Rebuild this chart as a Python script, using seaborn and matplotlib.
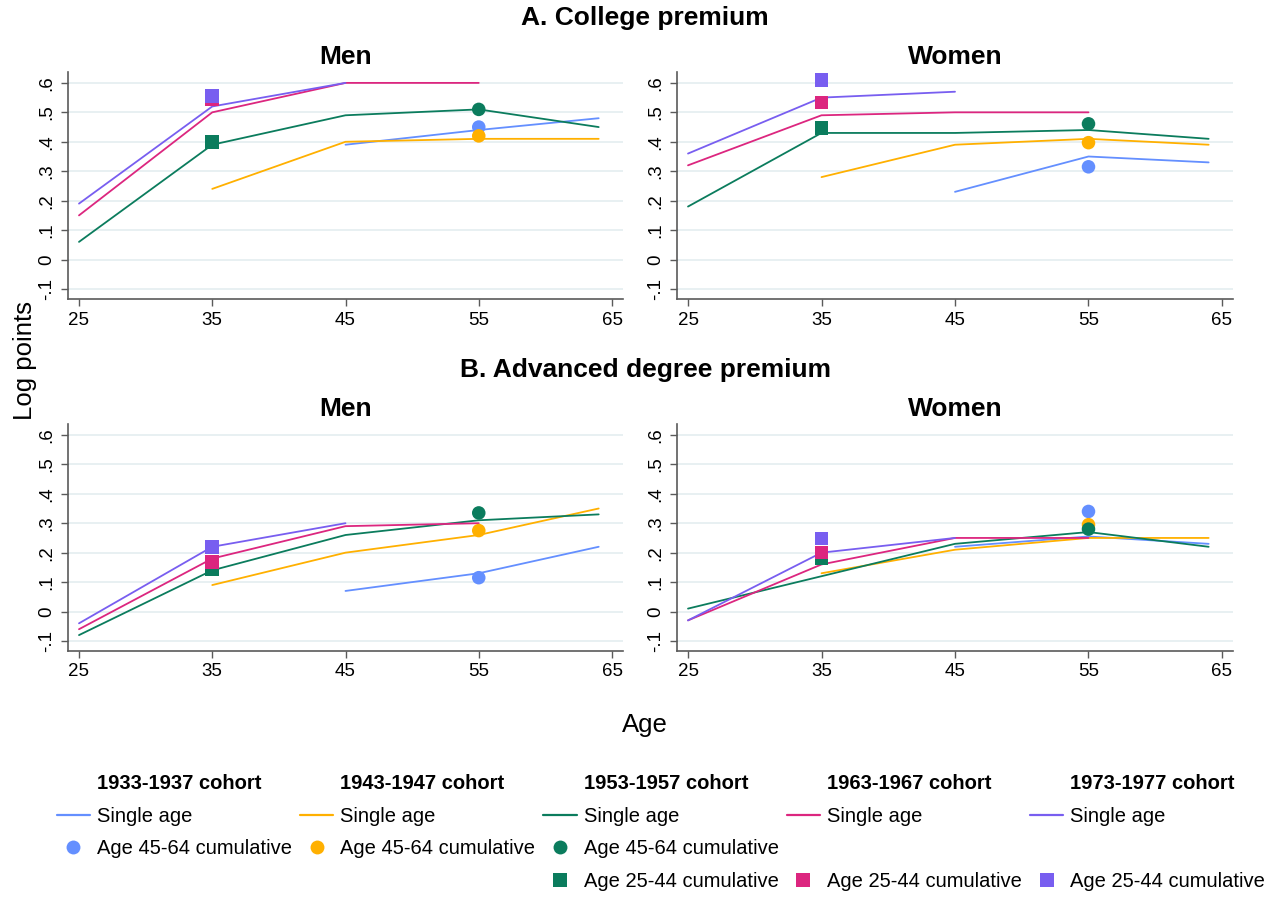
import numpy as np
import pandas as pd
import matplotlib
matplotlib.use("Agg")
import matplotlib.pyplot as plt
from matplotlib.lines import Line2D
from matplotlib.ticker import FuncFormatter, FixedLocator
import seaborn as sns

nan = np.nan

# ---------------------------------------------------------------- data
ages = [25, 35, 45, 55, 64]
cohorts = ["1933-1937", "1943-1947", "1953-1957", "1963-1967", "1973-1977"]
colors = ["#648FFF", "#FFB000", "#0B7C5D", "#DC267F", "#785EF0"]

# single-age premiums: one row per cohort, one column per age
college_men = [
    [nan, nan, 0.39, 0.44, 0.48],
    [nan, 0.24, 0.40, 0.41, 0.41],
    [0.06, 0.39, 0.49, 0.51, 0.45],
    [0.15, 0.50, 0.60, 0.60, nan],
    [0.19, 0.52, 0.60, nan, nan],
]
college_women = [
    [nan, nan, 0.23, 0.35, 0.33],
    [nan, 0.28, 0.39, 0.41, 0.39],
    [0.18, 0.43, 0.43, 0.44, 0.41],
    [0.32, 0.49, 0.50, 0.50, nan],
    [0.36, 0.55, 0.57, nan, nan],
]
advanced_men = [
    [nan, nan, 0.07, 0.13, 0.22],
    [nan, 0.09, 0.20, 0.26, 0.35],
    [-0.08, 0.14, 0.26, 0.31, 0.33],
    [-0.06, 0.18, 0.29, 0.30, nan],
    [-0.04, 0.22, 0.30, nan, nan],
]
advanced_women = [
    [nan, nan, 0.22, 0.255, 0.23],
    [nan, 0.13, 0.21, 0.25, 0.25],
    [0.01, 0.12, 0.23, 0.27, 0.22],
    [-0.03, 0.16, 0.25, 0.25, nan],
    [-0.03, 0.20, 0.25, nan, nan],
]

# cumulative estimates (45-64 shown at age 55, 25-44 shown at age 35)
college_men_45_64 = [0.45, 0.42, 0.51, nan, nan]
college_men_25_44 = [nan, nan, 0.40, 0.543, 0.555]
college_women_45_64 = [0.315, 0.397, 0.461, nan, nan]
college_women_25_44 = [nan, nan, 0.446, 0.534, 0.61]
advanced_men_45_64 = [0.115, 0.275, 0.335, nan, nan]
advanced_men_25_44 = [nan, nan, 0.145, 0.168, 0.22]
advanced_women_45_64 = [0.34, 0.295, 0.28, nan, nan]
advanced_women_25_44 = [nan, nan, 0.18, 0.20, 0.248]

cum_old_age = 55
cum_young_age = 35

y_ticks = [-0.1, 0.0, 0.1, 0.2, 0.3, 0.4, 0.5, 0.6]
x_ticks = [25, 35, 45, 55, 65]

# ---------------------------------------------------------------- style
sns.set_theme(style="ticks")
plt.rcParams["font.family"] = ["Liberation Sans", "DejaVu Sans"]
plt.rcParams["text.color"] = "black"
plt.rcParams["axes.labelcolor"] = "black"
plt.rcParams["xtick.labelcolor"] = "black"
plt.rcParams["ytick.labelcolor"] = "black"
palette = dict(zip(cohorts, colors))

W, H = 1265, 898
fig = plt.figure(figsize=(W / 100, H / 100), dpi=100)


def frac_box(left, top, right, bottom):
    return [left / W, 1 - bottom / H, (right - left) / W, (bottom - top) / H]


def single_frame(values):
    rows = []
    for c, series in zip(cohorts, values):
        for a, v in zip(ages, series):
            if not np.isnan(v):
                rows.append({"age": a, "value": v, "cohort": c})
    return pd.DataFrame(rows)


def point_frame(values, age):
    rows = [{"age": age, "value": v, "cohort": c}
            for c, v in zip(cohorts, values) if not np.isnan(v)]
    return pd.DataFrame(rows)


def tick_fmt(v, _):
    if abs(v) < 1e-9:
        return "0"
    return f"{v:.1f}".replace("0.", ".")


def draw_panel(ax, single, cum_old, cum_young, title):
    sns.lineplot(data=single_frame(single), x="age", y="value", hue="cohort",
                 hue_order=cohorts, palette=palette, linewidth=1.3,
                 legend=False, ax=ax, zorder=3)
    sns.scatterplot(data=point_frame(cum_old, cum_old_age), x="age", y="value",
                    hue="cohort", hue_order=cohorts, palette=palette,
                    marker="o", s=95, linewidth=0, legend=False, ax=ax, zorder=4)
    sns.scatterplot(data=point_frame(cum_young, cum_young_age), x="age", y="value",
                    hue="cohort", hue_order=cohorts, palette=palette,
                    marker="s", s=95, linewidth=0, legend=False, ax=ax, zorder=4)

    ax.set_xlim(24.175, 65.825)
    ax.set_ylim(-0.134, 0.637)
    ax.xaxis.set_major_locator(FixedLocator(x_ticks))
    ax.yaxis.set_major_locator(FixedLocator(y_ticks))
    ax.yaxis.set_major_formatter(FuncFormatter(tick_fmt))
    ax.grid(axis="y", color="#E6EFF1", linewidth=1.3, zorder=0)
    ax.grid(axis="x", visible=False)
    ax.set_axisbelow(True)
    for side in ("top", "right"):
        ax.spines[side].set_visible(False)
    for side in ("left", "bottom"):
        ax.spines[side].set_color("#5a5a5a")
        ax.spines[side].set_linewidth(1.2)
    ax.tick_params(axis="both", direction="out", length=5, width=1.0,
                   color="#5a5a5a", labelsize=13.5, labelcolor="black", pad=4)
    ax.tick_params(axis="y", labelrotation=90)
    for t in ax.get_yticklabels():
        t.set_verticalalignment("center")
    ax.set_xlabel("")
    ax.set_ylabel("")
    ax.set_title(title, fontsize=19, fontweight="bold", pad=6, color="black")


panels = [
    ((68, 72, 623, 299), college_men, college_men_45_64, college_men_25_44, "Men"),
    ((677, 72, 1233, 299), college_women, college_women_45_64, college_women_25_44, "Women"),
    ((68, 424, 623, 651), advanced_men, advanced_men_45_64, advanced_men_25_44, "Men"),
    ((677, 424, 1233, 651), advanced_women, advanced_women_45_64, advanced_women_25_44, "Women"),
]
for box, single, old, young, title in panels:
    ax = fig.add_axes(frac_box(*box))
    draw_panel(ax, single, old, young, title)

fig.text(645 / W, 1 - 18 / H, "A. College premium", ha="center", va="center",
         fontsize=19, fontweight="bold")
fig.text(645 / W, 1 - 370 / H, "B. Advanced degree premium", ha="center", va="center",
         fontsize=19, fontweight="bold")
fig.text(25 / W, 1 - 360 / H, "Log points", rotation=90, ha="center", va="center",
         fontsize=18.5)
fig.text(645 / W, 1 - 725 / H, "Age", ha="center", va="center", fontsize=18.5)

# ---------------------------------------------------------------- legend
blank = Line2D([], [], linestyle="none", marker=None)
handles, labels = [], []
for i, (c, col) in enumerate(zip(cohorts, colors)):
    handles.append(blank)
    labels.append(f"{c} cohort")
    handles.append(Line2D([], [], color=col, linewidth=1.6))
    labels.append("Single age")
    if not np.isnan(college_men_45_64[i]):
        handles.append(Line2D([], [], linestyle="none", marker="o", markersize=10,
                              markerfacecolor=col, markeredgewidth=0))
        labels.append("Age 45-64 cumulative")
    else:
        handles.append(blank)
        labels.append("")
    if not np.isnan(college_men_25_44[i]):
        handles.append(Line2D([], [], linestyle="none", marker="s", markersize=10,
                              markerfacecolor=col, markeredgewidth=0))
        labels.append("Age 25-44 cumulative")
    else:
        handles.append(blank)
        labels.append("")

leg = fig.legend(handles, labels, ncol=5, loc="center",
                 bbox_to_anchor=(661 / W, 1 - 832.5 / H), frameon=False,
                 fontsize=14.5, handlelength=1.65, handletextpad=0.35,
                 columnspacing=0.4, labelspacing=0.68, borderpad=0)
for t in leg.get_texts():
    t.set_color("black")
    if t.get_text().endswith("cohort"):
        t.set_fontweight("bold")

fig.savefig("out.png", dpi=100, facecolor="white")
